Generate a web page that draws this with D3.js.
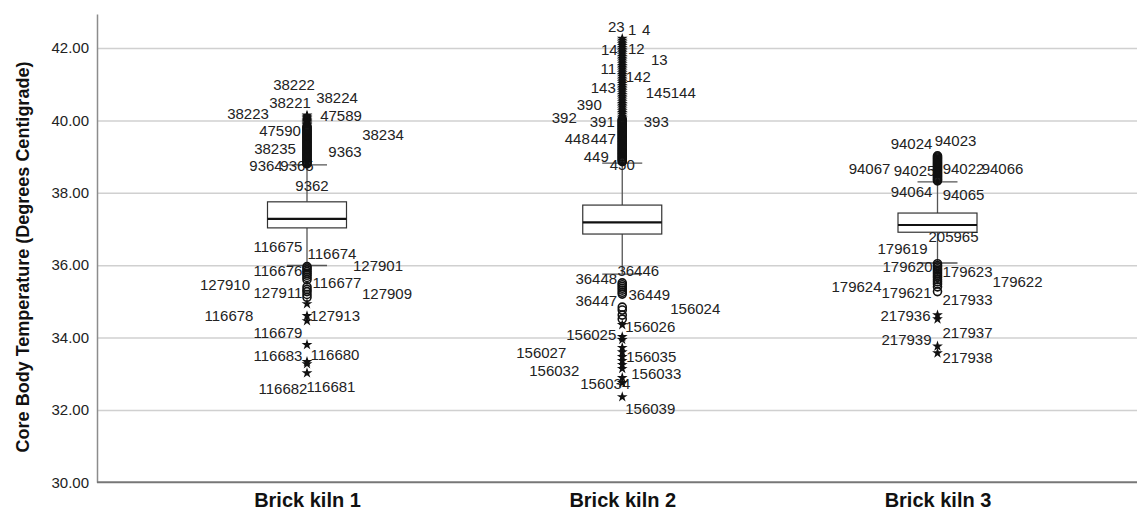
<!DOCTYPE html>
<html>
<head>
<meta charset="utf-8">
<script src="https://cdn.jsdelivr.net/npm/d3@7"></script>
<style>
  body { margin: 0; background: #fff; }
  svg { display: block; font-family: Arial, "Liberation Sans", sans-serif; }
  .grid line { stroke: #d0d0d0; stroke-width: 1.5; }
  .grid path { display: none; }
  .y.axis path { stroke: #8c8c8c; stroke-width: 1.5; }
  .y.axis text { font-size: 15px; fill: #222; }
  .x.axis path { stroke: #777; stroke-width: 2; }
  .x.axis text { font-size: 20px; font-weight: bold; fill: #111; }
  .box { fill: #fff; stroke: #333; stroke-width: 1.2; }
  .median { stroke: #111; stroke-width: 2.2; }
  .whisker { stroke: #555; stroke-width: 1.3; }
  .outlier { fill: none; stroke: #111; stroke-width: 1.6; }
  .extreme { fill: #111; }
  .lbl { font-size: 15px; fill: #222; }
</style>
</head>
<body>
<svg id="chart"></svg>
<script>
// chart values
const categories = ['Brick kiln 1', 'Brick kiln 2', 'Brick kiln 3'];
const q1 = [37.03, 36.86, 36.91];
const medians = [37.28, 37.18, 37.11];
const q3 = [37.75, 37.66, 37.44];
const whiskerLow = [35.99, 35.75, 36.06];
const whiskerHigh = [38.77, 38.82, 38.30];
const yTicks = [30, 32, 34, 36, 38, 40, 42];

// outliers (circles) and extreme values (stars)
const circles1 = [38.80, 38.83, 38.85, 38.88, 38.91, 38.94, 38.97, 39.00, 39.03, 39.06, 39.09, 39.12,
    39.15, 39.18, 39.21, 39.24, 39.27, 39.30, 39.33, 39.36, 39.39, 39.42, 39.45, 39.48, 39.51, 39.54,
    39.57, 39.60, 39.63, 39.66, 39.69, 39.72, 39.75, 39.78, 39.81, 39.84,
    35.96, 35.92, 35.87, 35.82, 35.77, 35.72, 35.66, 35.60, 35.40, 35.33, 35.27, 35.19, 35.11];
const stars1 = [39.87, 39.90, 39.93, 39.96, 39.99, 40.02, 40.05, 40.08, 40.11, 40.14,
    34.93, 34.60, 34.46, 33.80, 33.33, 33.27, 33.02];
const circles2 = [38.86, 38.89, 38.92, 38.95, 38.98, 39.01, 39.04, 39.07, 39.10, 39.13, 39.16, 39.19,
    39.22, 39.25, 39.28, 39.31, 39.34, 39.37, 39.40, 39.43, 39.46, 39.49, 39.52, 39.55, 39.58, 39.61,
    39.64, 39.67, 39.70, 39.73, 39.76, 39.79, 39.82, 39.85, 39.88, 39.91, 39.94, 39.97, 40.00, 40.03,
    35.51, 35.46, 35.41, 35.36, 35.31, 35.25, 35.20, 34.84, 34.76, 34.62, 34.51];
const stars2 = [40.06, 40.11, 40.16, 40.21, 40.26, 40.31, 40.36, 40.41, 40.46, 40.51, 40.56, 40.61,
    40.66, 40.71, 40.76, 40.81, 40.86, 40.91, 40.96, 41.01, 41.06, 41.11, 41.16, 41.21, 41.26, 41.31,
    41.36, 41.41, 41.46, 41.51, 41.56, 41.61, 41.66, 41.71, 41.76, 41.81, 41.86, 41.91, 41.96, 42.01,
    42.06, 42.11, 42.16, 42.21, 42.26,
    34.35, 34.02, 33.94, 33.72, 33.60, 33.47, 33.36, 33.25, 33.14, 32.89, 32.75, 32.36];
const circles3 = [38.33, 38.36, 38.39, 38.42, 38.45, 38.48, 38.51, 38.54, 38.57, 38.60, 38.63, 38.66,
    38.69, 38.72, 38.75, 38.78, 38.81, 38.84, 38.87, 38.90, 38.93, 38.96, 38.99, 39.02,
    36.04, 35.99, 35.95, 35.90, 35.86, 35.81, 35.76, 35.71, 35.66, 35.60, 35.54, 35.48, 35.40, 35.27];
const stars3 = [34.62, 34.51, 33.76, 33.57];

// case-number labels: [case id, temperature at label]
const labels1 = [['38222', 40.98], ['38224', 40.62], ['38221', 40.48], ['38223', 40.20], ['47589', 40.12],
    ['47590', 39.73], ['38234', 39.62], ['38235', 39.23], ['9363', 39.15], ['9364', 38.74], ['9365', 38.74],
    ['9362', 38.21], ['116675', 36.50], ['116674', 36.33], ['116676', 35.84], ['127901', 36.00],
    ['127910', 35.45], ['116677', 35.51], ['127911', 35.24], ['127909', 35.21], ['116678', 34.61],
    ['127913', 34.61], ['116679', 34.15], ['116683', 33.49], ['116680', 33.52], ['116682', 32.58],
    ['116681', 32.64]];
const labels2 = [['23', 42.58], ['1', 42.52], ['4', 42.52], ['14', 41.97], ['12', 41.99], ['13', 41.69],
    ['11', 41.44], ['142', 41.22], ['143', 40.92], ['145', 40.78], ['144', 40.78], ['390', 40.45],
    ['392', 40.09], ['391', 39.98], ['393', 39.98], ['448', 39.51], ['447', 39.51], ['449', 38.99],
    ['450', 38.77], ['36446', 35.86], ['36448', 35.62], ['36449', 35.20], ['36447', 35.01],
    ['156024', 34.79], ['156026', 34.29], ['156025', 34.07], ['156027', 33.58], ['156035', 33.46],
    ['156032', 33.10], ['156033', 32.99], ['156034', 32.72], ['156039', 32.03]];
const labels3 = [['94024', 39.37], ['94023', 39.43], ['94067', 38.68], ['94025', 38.60], ['94022', 38.68],
    ['94066', 38.68], ['94064', 38.02], ['94065', 37.96], ['205965', 36.78], ['179619', 36.45],
    ['179620', 35.95], ['179623', 35.81], ['179622', 35.54], ['179624', 35.40], ['179621', 35.23],
    ['217933', 35.04], ['217936', 34.62], ['217937', 34.15], ['217939', 33.93], ['217938', 33.44]];

// horizontal label offsets from the box centre (layout only)
const labelDx1 = [-13, 30, -17, -59, 34, -27, 76, -32, 38, -41, -10, 5, -29, 25, -29, 71, -82, 30, -29, 80,
    -78, 28, -29, -29, 28, -24, 24];
const labelDx2 = [-6, 10, 24, -13, 14, 37, -14, 16, -19, 36, 61, -33, -58, -20, 34, -45, -19, -26, 0,
    16, -26, 27, -26, 73, 28, -31, -81, 29, -68, 34, -17, 28];
const labelDx3 = [-26, 18, -68, -23, 26, 65, -26, 26, 16, -35, -30, 30, 80, -81, -31, 30, -32, 30, -31, 30];

const circles = [circles1, circles2, circles3];
const stars = [stars1, stars2, stars3];
const labels = [labels1, labels2, labels3];
const labelDx = [labelDx1, labelDx2, labelDx3];

const width = 1137, height = 512;
const margin = { top: 14, right: 0, bottom: 30, left: 97 };
const plotBottom = height - margin.bottom + 0.3;
const boxWidth = 79, capWidth = 40;

const svg = d3.select('#chart').attr('width', width).attr('height', height);

const y = d3.scaleLinear().domain([30, 42.94]).range([plotBottom, margin.top]);
const x = d3.scalePoint().domain(categories).range([307, 937.5]);

// gridlines
svg.append('g')
    .attr('class', 'grid')
    .attr('transform', 'translate(' + margin.left + ',0)')
    .call(d3.axisRight(y).tickValues(yTicks.filter(t => t > 30)).tickSize(width - margin.left).tickFormat(''));

// y axis
svg.append('g')
    .attr('class', 'y axis')
    .attr('transform', 'translate(' + margin.left + ',0)')
    .call(d3.axisLeft(y).tickValues(yTicks).tickSize(0).tickSizeOuter(0).tickPadding(8).tickFormat(d3.format('.2f')));

svg.append('text')
    .attr('transform', 'translate(23,' + 257 + ') rotate(-90)')
    .attr('dy', '0.36em')
    .style('text-anchor', 'middle')
    .style('font-size', '18px')
    .style('font-weight', 'bold')
    .style('fill', '#111')
    .text('Core Body Temperature (Degrees Centigrade)');

// x axis
const xAxis = svg.append('g')
    .attr('class', 'x axis')
    .attr('transform', 'translate(0,' + plotBottom + ')')
    .call(d3.axisBottom(x).tickSize(0).tickSizeOuter(0));
xAxis.select('path.domain').attr('d', 'M' + margin.left + ',0H' + width);
xAxis.selectAll('text').attr('y', 0).attr('dy', '25px');

// boxes
const g = svg.append('g');
categories.forEach((c, i) => {
    const cx = x(c);
    g.append('line').attr('class', 'whisker')
        .attr('x1', cx).attr('x2', cx).attr('y1', y(whiskerHigh[i])).attr('y2', y(q3[i]));
    g.append('line').attr('class', 'whisker')
        .attr('x1', cx).attr('x2', cx).attr('y1', y(q1[i])).attr('y2', y(whiskerLow[i]));
    [whiskerHigh[i], whiskerLow[i]].forEach(v => {
        g.append('line').attr('class', 'whisker')
            .attr('x1', cx - capWidth / 2).attr('x2', cx + capWidth / 2)
            .attr('y1', y(v)).attr('y2', y(v));
    });
    g.append('rect').attr('class', 'box')
        .attr('x', cx - boxWidth / 2).attr('width', boxWidth)
        .attr('y', y(q3[i])).attr('height', y(q1[i]) - y(q3[i]));
    g.append('line').attr('class', 'median')
        .attr('x1', cx - boxWidth / 2).attr('x2', cx + boxWidth / 2)
        .attr('y1', y(medians[i])).attr('y2', y(medians[i]));

    // labels
    g.selectAll('.lbl' + i)
        .data(labels[i])
        .enter().append('text')
        .attr('class', 'lbl')
        .attr('x', (d, k) => cx + labelDx[i][k])
        .attr('y', d => y(d[1]))
        .attr('dy', '0.36em')
        .style('text-anchor', 'middle')
        .text(d => d[0]);

    // outliers
    g.selectAll('.o' + i)
        .data(circles[i])
        .enter().append('circle')
        .attr('class', 'outlier')
        .attr('cx', cx).attr('cy', d => y(d)).attr('r', 4);

    g.selectAll('.s' + i)
        .data(stars[i])
        .enter().append('path')
        .attr('class', 'extreme')
        .attr('transform', d => 'translate(' + cx + ',' + y(d) + ')')
        .attr('d', d3.symbol(d3.symbolStar, 36));
});
</script>
</body>
</html>
